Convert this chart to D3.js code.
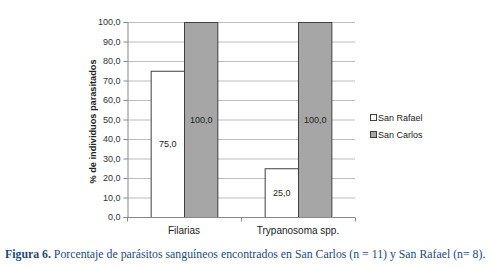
<!DOCTYPE html>
<html><head><meta charset="utf-8">
<script src="https://cdn.jsdelivr.net/npm/d3@7"></script>
<style>body{margin:0;background:#fff}svg{display:block}</style>
</head><body>
<script>
const categories = ["Filarias", "Trypanosoma spp."];
const seriesNames = ["San Rafael", "San Carlos"];
const sanRafael = [75.0, 25.0];
const sanCarlos = [100.0, 100.0];
const yTicks = [0,10,20,30,40,50,60,70,80,90,100];
const colors = ["#ffffff", "#a6a6a6"];

const W = 492, H = 269;
const svg = d3.select("body").append("svg").attr("width", W).attr("height", H);
const m = {l:127, r:355, t:22, b:217};
const x0 = d3.scaleBand().domain(categories).range([m.l, m.r]).paddingInner(0).paddingOuter(0);
const x1 = d3.scaleBand().domain(seriesNames).range([0, x0.bandwidth()]).paddingInner(0).paddingOuter(0.71);
const y = d3.scaleLinear().domain([0,100]).range([m.b, m.t]);
const fmt = d => d.toFixed(1).replace(".", ",");

// gridlines
svg.append("g").selectAll("line").data(yTicks.filter(d=>d>0)).join("line")
  .attr("x1", m.l).attr("x2", m.r).attr("y1", d=>y(d)+0.5).attr("y2", d=>y(d)+0.5)
  .attr("stroke", "#bdbdbd").attr("stroke-width", 1);

// y axis
const ya = svg.append("g").attr("transform", `translate(${m.l+0.5},0)`)
  .call(d3.axisLeft(y).tickValues(yTicks).tickFormat(fmt).tickSize(4).tickPadding(3));
ya.select(".domain").attr("stroke", "#888");
ya.selectAll(".tick line").attr("stroke", "#888");
ya.selectAll("text").attr("font-family", "Arial, 'Liberation Sans', sans-serif").attr("font-size", 9).attr("fill", "#333");

// bars
const data = categories.map((c,i)=>({c, vals:[sanRafael[i], sanCarlos[i]]}));
const g = svg.append("g");
data.forEach(d=>{
  d.vals.forEach((v,j)=>{
    const bx = x0(d.c) + x1(seriesNames[j]);
    g.append("rect").attr("x", bx+0.5).attr("y", y(v)+0.5)
      .attr("width", x1.bandwidth()).attr("height", y(0)-y(v))
      .attr("fill", colors[j]).attr("stroke", "#404040").attr("stroke-width", 1);
    g.append("text").attr("x", bx + x1.bandwidth()/2 + 0.5).attr("y", (y(v)+y(0))/2 + 3)
      .attr("text-anchor", "middle").attr("font-family", "Arial, 'Liberation Sans', sans-serif")
      .attr("font-size", 9).attr("fill", "#222").text(fmt(v));
  });
});

// x axis
const xa = svg.append("g").attr("transform", `translate(0,${m.b+0.5})`);
xa.append("line").attr("x1", m.l).attr("x2", m.r).attr("stroke", "#888");
const bounds = [m.l, m.l + x0.bandwidth(), m.r];
xa.selectAll("line.tk").data(bounds).join("line").attr("class","tk")
  .attr("x1", d=>d+0.5).attr("x2", d=>d+0.5).attr("y1",0).attr("y2",4).attr("stroke","#888");
xa.selectAll("text").data(categories).join("text")
  .attr("x", d=>x0(d)+x0.bandwidth()/2).attr("y", 16)
  .attr("text-anchor","middle").attr("font-family", "Arial, 'Liberation Sans', sans-serif")
  .attr("font-size", 10).attr("fill", "#222").text(d=>d);

// y title
svg.append("text").attr("transform", `translate(96,${(m.t+m.b)/2 + 2}) rotate(-90)`)
  .attr("text-anchor","middle").attr("font-family", "Arial, 'Liberation Sans', sans-serif")
  .attr("font-size", 9.2).attr("font-weight","bold").attr("fill","#222")
  .text("% de individuos parasitados");

// legend
const lg = svg.append("g");
seriesNames.forEach((s,i)=>{
  lg.append("rect").attr("x", 370.5).attr("y", 114.5 + i*17).attr("width",6).attr("height",6)
    .attr("fill", colors[i]).attr("stroke","#404040");
  lg.append("text").attr("x", 378).attr("y", 121 + i*17).attr("font-family", "Arial, 'Liberation Sans', sans-serif")
    .attr("font-size", 9).attr("fill","#222").text(s);
});

// caption
const cap = svg.append("text").attr("x", 5).attr("y", 258)
  .attr("font-family", "'Liberation Serif', 'Times New Roman', serif").attr("font-size", 11.8).attr("fill", "#1f497d");
cap.append("tspan").attr("font-weight","bold").text("Figura 6.");
cap.append("tspan").text(" Porcentaje de parásitos sanguíneos encontrados en San Carlos (n = 11) y San Rafael (n= 8).");
</script>
</body></html>
